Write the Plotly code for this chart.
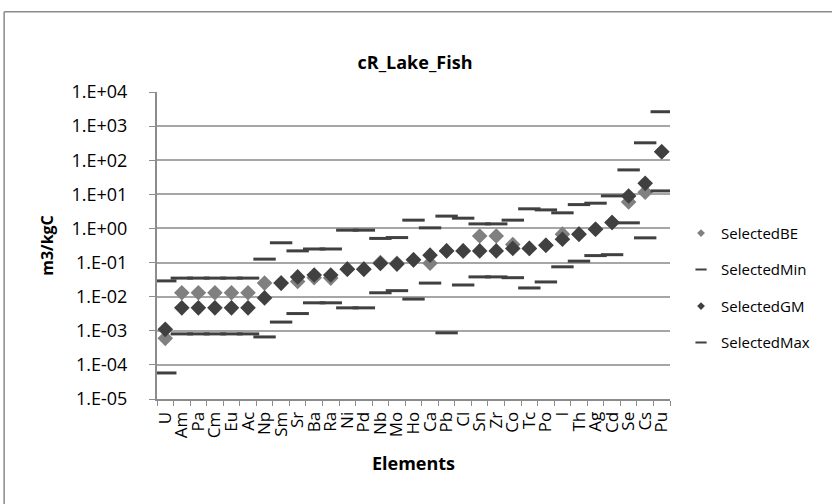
import plotly.graph_objects as go

elements = ["U", "Am", "Pa", "Cm", "Eu", "Ac", "Np", "Sm", "Sr", "Ba", "Ra", "Ni", "Pd",
            "Nb", "Mo", "Ho", "Ca", "Pb", "Cl", "Sn", "Zr", "Co", "Tc", "Po", "I", "Th",
            "Ag", "Cd", "Se", "Cs", "Pu"]

selected_be = [6.0e-4, 0.013, 0.013, 0.013, 0.013, 0.013, 0.025, 0.025, 0.028, 0.036, 0.035,
               0.064, 0.064, 0.10, 0.095, 0.12, 0.095, 0.22, 0.22, 0.60, 0.60, 0.34, 0.26,
               0.32, 0.68, 0.68, 0.95, 1.5, 6.0, 11.5, 177]
selected_min = [5.8e-5, 8.1e-4, 8.1e-4, 8.1e-4, 8.1e-4, 8.1e-4, 6.6e-4, 0.0018, 0.0032,
                0.0066, 0.0066, 0.0047, 0.0047, 0.013, 0.015, 0.0085, 0.025, 8.7e-4, 0.022,
                0.038, 0.038, 0.036, 0.018, 0.027, 0.075, 0.11, 0.16, 0.17, 1.46, 0.53, 12.6]
selected_gm = [1.1e-3, 0.0047, 0.0047, 0.0047, 0.0047, 0.0047, 0.0092, 0.025, 0.038, 0.043,
               0.043, 0.064, 0.064, 0.094, 0.09, 0.12, 0.165, 0.22, 0.22, 0.22, 0.22, 0.26,
               0.26, 0.32, 0.48, 0.68, 0.95, 1.5, 8.9, 21, 177]
selected_max = [0.029, 0.035, 0.035, 0.035, 0.035, 0.035, 0.126, 0.38, 0.22, 0.25, 0.25,
                0.89, 0.89, 0.51, 0.54, 1.75, 1.04, 2.3, 2.0, 1.36, 1.36, 1.75, 3.76, 3.5,
                2.87, 5.0, 5.5, 9.0, 52, 324, 2640]

y_tick_vals = [1e-5, 1e-4, 1e-3, 1e-2, 1e-1, 1, 10, 100, 1000, 10000]
y_tick_text = ["1.E-05", "1.E-04", "1.E-03", "1.E-02", "1.E-01",
               "1.E+00", "1.E+01", "1.E+02", "1.E+03", "1.E+04"]

DARK = "#404040"
LIGHT = "#808080"
AXIS = "#8c8c8c"
FONT = "Open Sans, Liberation Sans, sans-serif"

series = [
    ("SelectedBE", selected_be, dict(symbol="diamond", size=12, color=LIGHT, line=dict(width=0))),
    ("SelectedMin", selected_min, dict(symbol="line-ew", size=16, color=DARK, line=dict(width=3, color=DARK))),
    ("SelectedGM", selected_gm, dict(symbol="diamond", size=12, color=DARK, line=dict(width=0))),
    ("SelectedMax", selected_max, dict(symbol="line-ew", size=16, color=DARK, line=dict(width=3, color=DARK))),
]

# small legend keys
legend_markers = {
    "SelectedBE": dict(symbol="diamond", size=6, color=LIGHT, line=dict(width=0)),
    "SelectedMin": dict(symbol="line-ew", size=8, color=DARK, line=dict(width=2, color=DARK)),
    "SelectedGM": dict(symbol="diamond", size=6, color=DARK, line=dict(width=0)),
    "SelectedMax": dict(symbol="line-ew", size=8, color=DARK, line=dict(width=2, color=DARK)),
}

fig = go.Figure()
for name, values, marker in series:
    fig.add_trace(go.Scatter(x=elements, y=values, mode="markers", name=name,
                             marker=marker, showlegend=False))
for name, _, _ in series:
    fig.add_trace(go.Scatter(x=[None], y=[None], mode="markers", name=name,
                             legendgroup=name, marker=legend_markers[name]))

# chart frame edges (left and top)
frame = dict(type="line", xref="paper", yref="paper", line=dict(color="#8a8a8a", width=1.5))
fig.add_shape(x0=-0.298, x1=-0.298, y0=1.261, y1=-0.4, **frame)
fig.add_shape(x0=-0.298, x1=1.4, y0=1.261, y1=1.261, **frame)

fig.update_layout(
    width=832, height=504,
    margin=dict(l=157, r=162, t=92, b=105),
    paper_bgcolor="white", plot_bgcolor="white",
    font=dict(family=FONT, size=15, color="black"),
    title=dict(text="<b>cR_Lake_Fish</b>", x=415 / 832, xanchor="center",
               y=1 - 63 / 504, yanchor="middle", font=dict(size=18, family=FONT)),
    showlegend=True,
    legend=dict(x=1.0215, xanchor="left", y=0.362, yanchor="middle",
                font=dict(size=15, family=FONT), itemsizing="trace",
                tracegroupgap=14, bgcolor="rgba(0,0,0,0)"),
    xaxis=dict(
        type="category", tickangle=-90, tickfont=dict(size=17),
        tickmode="array", tickvals=elements, ticktext=elements,
        showgrid=False, showline=True, linecolor=AXIS, linewidth=2,
        ticks="outside", tickson="boundaries", ticklen=5, tickcolor=AXIS,
        ticklabelstandoff=4,
        title=dict(text="<b>Elements</b>", font=dict(size=18), standoff=20),
        range=[-0.5, len(elements) - 0.5],
    ),
    yaxis=dict(
        type="log", range=[-5, 4],
        tickvals=y_tick_vals, ticktext=y_tick_text, tickfont=dict(size=18),
        showgrid=True, gridcolor="#a6a6a6", gridwidth=1.5,
        showline=True, linecolor=AXIS, linewidth=2,
        ticks="outside", ticklen=6, tickcolor=AXIS,
        ticklabelstandoff=18,
        zeroline=False,
        title=dict(text="<b>m3/kgC</b>", font=dict(size=16), standoff=14),
    ),
)

fig.write_html("out.html")
